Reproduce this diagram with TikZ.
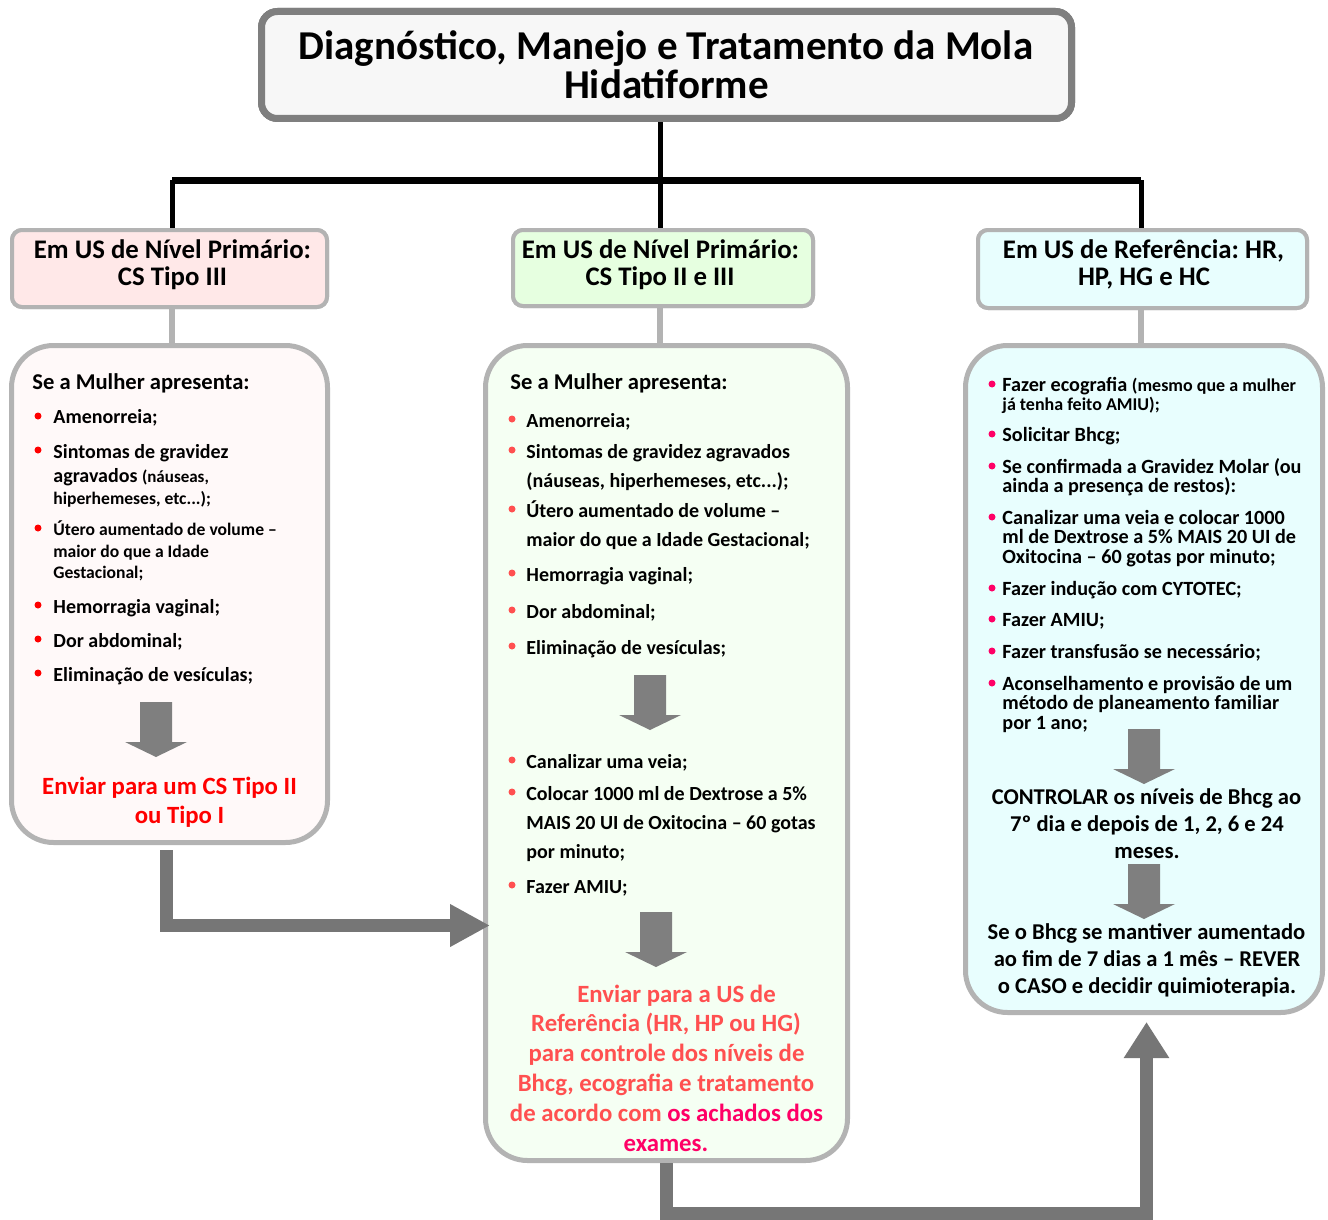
\documentclass[tikz,border=0pt]{standalone}
\usepackage{fontspec}
\setmainfont{Carlito}
\frenchspacing
\usetikzlibrary{arrows.meta,calc}
\definecolor{ttlgray}{HTML}{7F7F7F}
\definecolor{ttlfill}{HTML}{F7F7F7}
\definecolor{boxgray}{HTML}{B3B3B3}
\definecolor{hpink}{HTML}{FFE8E8}
\definecolor{hgreen}{HTML}{E6FFE0}
\definecolor{hcyan}{HTML}{E8FEFE}
\definecolor{cpink}{HTML}{FFF9F9}
\definecolor{cgreen}{HTML}{F5FFF3}
\definecolor{ccyan}{HTML}{E8FEFE}
\definecolor{blkarrow}{HTML}{7F7F7F}
\definecolor{flowgray}{HTML}{767676}
\definecolor{redA}{HTML}{FF0000}
\definecolor{redB}{HTML}{FF5050}
\definecolor{magB}{HTML}{FF0066}
\newcommand\smf{\fontsize{8.8}{10}\selectfont}
\newcommand\smr{\fontsize{9}{10}\selectfont}
\newcommand\bdot[3]{\fill[#1] (#2,#3) circle (1.75pt);}
\newcommand\blockdown[3]{% name, cx, top
  \fill[blkarrow] (#2-16,#3) -- (#2+16,#3) -- (#2+16,#3+40) -- (#2+31,#3+40) -- (#2,#3+55) -- (#2-31,#3+40) -- (#2-16,#3+40) -- cycle;
  \coordinate (#1) at (#2,#3);}
\tikzset{
  ttl/.style={inner sep=0, anchor=base, font=\fontsize{20.5}{24}\selectfont\bfseries},
  hdr/.style={inner sep=0, anchor=base, font=\fontsize{13.4}{15}\selectfont\bfseries},
  lead/.style={inner sep=0, anchor=base west, font=\fontsize{11.3}{13}\selectfont\bfseries},
  bodyl/.style={inner sep=0, anchor=base west, font=\fontsize{10}{12}\selectfont\bfseries},
  smalll/.style={inner sep=0, anchor=base west, font=\smf\bfseries},
  rightl/.style={inner sep=0, anchor=base west, font=\fontsize{10.1}{11}\selectfont\bfseries},
  redl/.style={inner sep=0, anchor=base, font=\fontsize{12.4}{14}\selectfont\bfseries},
  ctrl/.style={inner sep=0, anchor=base, font=\fontsize{11.3}{13}\selectfont\bfseries},
  titlebox/.style={draw=ttlgray, fill=ttlfill, line width=3.5pt, rounded corners=8pt, inner sep=0},
  headbox/.style={draw=boxgray, line width=2pt, rounded corners=5pt, inner sep=0},
  contbox/.style={draw=boxgray, line width=2.5pt, rounded corners=21pt, inner sep=0},
  blackline/.style={line width=2.5pt, black},
  grayline/.style={line width=3pt, boxgray},
  flow/.style={line width=6.5pt, flowgray},
}
\begin{document}
\begin{tikzpicture}[x=0.5pt,y=-0.5pt]
\useasboundingbox (0,0) rectangle (1328,1220);

% boxes (nodes)
\node[titlebox, minimum width=405pt, minimum height=53.5pt] (title) at (666.5,65) {};
\node[headbox, fill=hpink, minimum width=157.5pt, minimum height=38.5pt] (h1) at (169.5,268.5) {};
\node[headbox, fill=hgreen, minimum width=150pt, minimum height=38pt] (h2) at (663,268) {};
\node[headbox, fill=hcyan, minimum width=164.5pt, minimum height=39pt] (h3) at (1142.5,269) {};
\node[contbox, fill=cpink, minimum width=158pt, minimum height=248.5pt] (c1) at (169.5,594) {};
\node[contbox, fill=cgreen, minimum width=181pt, minimum height=407.5pt] (c2) at (666.5,753) {};
\node[contbox, fill=ccyan, minimum width=178.5pt, minimum height=333.5pt] (c3) at (1144,679) {};

% connectors
\coordinate (bar) at (660,180);
\draw[blackline] (title.south -| bar) -- (bar);
\draw[line width=3.5pt] (172,180) -- (1141,180);
\draw[blackline] (172,180) -- (h1.north -| 172,0);
\draw[blackline] (bar) -- (h2.north -| bar);
\draw[blackline] (1141,180) -- (h3.north -| 1141,0);
\draw[grayline] (h1.south -| 172,0) -- (c1.north -| 172,0);
\draw[grayline] (h2.south -| 660,0) -- (c2.north -| 660,0);
\draw[grayline] (h3.south -| 1141,0) -- (c3.north -| 1141,0);

% redraw boxes on top of connectors
\node[titlebox, minimum width=405pt, minimum height=53.5pt] (titleB) at (666.5,65) {};
\node[headbox, fill=hpink, minimum width=157.5pt, minimum height=38.5pt] (h1B) at (169.5,268.5) {};
\node[headbox, fill=hgreen, minimum width=150pt, minimum height=38pt] (h2B) at (663,268) {};
\node[headbox, fill=hcyan, minimum width=164.5pt, minimum height=39pt] (h3B) at (1142.5,269) {};

% flow arrows
\coordinate (fa) at (490,925.5);
\draw[flow, -{Triangle[length=20pt,width=20pt]}] ([xshift=-1.75pt,yshift=-2.5pt]c1.south) |- (fa);
\coordinate (fbc) at (1146.5,1213.5);
\coordinate (fb) at (1146.5,1022);
\draw[flow, -{Triangle[length=18pt,width=21.5pt]}] (c2.south) |- (fbc) -- (fb);

% title text
\node[ttl] (tt1) at (666,60) {Diagnóstico, Manejo e Tratamento da Mola};
\node[ttl] (tt2) at (666.5,98) {Hidatiforme};

% header texts
\node[hdr] (h1a) at (172.5,258) {Em US de Nível Primário:};
\node[hdr] (h1b) at (172.5,285) {CS Tipo III};
\node[hdr] (h2a) at (660.5,258) {Em US de Nível Primário:};
\node[hdr] (h2b) at (660,285) {CS Tipo II e III};
\node[hdr] (h3a) at (1143.5,258) {Em US de Referência: HR,};
\node[hdr] (h3b) at (1144,285) {HP, HG e HC};

% left box
\node[lead] (l0) at (32,389) {Se a Mulher apresenta:};
\bdot{redA}{38}{416}
\node[bodyl] (l1) at (53,423) {Amenorreia;};
\bdot{redA}{38}{450}
\node[bodyl] (l2) at (53,458) {Sintomas de gravidez};
\node[bodyl] (l3) at (53,482) {agravados {\fontsize{8.5}{10}\selectfont(náuseas,}};
\node[smalll] (l4) at (53,504) {hiperhemeses, etc...);};
\bdot{redA}{38}{528}
\node[smalll] (l5) at (53,535) {Útero aumentado de volume –};
\node[smalll] (l6) at (53,557) {maior do que a Idade};
\node[smalll] (l7) at (53,578) {Gestacional;};
\bdot{redA}{38}{605}
\node[bodyl] (l8) at (53,613) {Hemorragia vaginal;};
\bdot{redA}{38}{639}
\node[bodyl] (l9) at (53,647) {Dor abdominal;};
\bdot{redA}{38}{673}
\node[bodyl] (l10) at (53,681) {Eliminação de vesículas;};
\blockdown{ba1}{156}{702}
\node[redl, text=redA] (l11) at (169.5,794) {Enviar para um CS Tipo II};
\node[redl, text=redA] (l12) at (179.5,823) {ou Tipo I};

% middle box
\node[lead] (m0) at (510,389) {Se a Mulher apresenta:};
\bdot{redB}{512}{419}
\node[bodyl] (m1) at (526,427) {Amenorreia;};
\bdot{redB}{512}{450}
\node[bodyl] (m2) at (526,458) {Sintomas de gravidez agravados};
\node[bodyl] (m3) at (526,487) {(náuseas, hiperhemeses, etc...);};
\bdot{redB}{512}{509}
\node[bodyl] (m4) at (526,517) {Útero aumentado de volume –};
\node[bodyl] (m5) at (526,546) {maior do que a Idade Gestacional;};
\bdot{redB}{512}{573}
\node[bodyl] (m6) at (526,581) {Hemorragia vaginal;};
\bdot{redB}{512}{610}
\node[bodyl] (m7) at (526,618) {Dor abdominal;};
\bdot{redB}{512}{646}
\node[bodyl] (m8) at (526,654) {Eliminação de vesículas;};
\blockdown{ba2}{650}{675}
\bdot{redB}{512}{760}
\node[bodyl] (m9) at (526,768) {Canalizar uma veia;};
\bdot{redB}{512}{792}
\node[bodyl] (m10) at (526,800) {Colocar 1000 ml de Dextrose a 5\%};
\node[bodyl] (m11) at (526,829) {MAIS 20 UI de Oxitocina – 60 gotas};
\node[bodyl] (m12) at (526,858) {por minuto;};
\bdot{redB}{512}{885}
\node[bodyl] (m13) at (526,893) {Fazer AMIU;};
\blockdown{ba3}{656}{912}
\node[redl, text=redB] (m14) at (676.5,1002) {Enviar para a US de};
\node[redl, text=redB] (m15) at (666,1031) {Referência (HR, HP ou HG)};
\node[redl, text=redB] (m16) at (666.5,1061) {para controle dos níveis de};
\node[redl, text=redB] (m17) at (666,1091) {Bhcg, ecografia e tratamento};
\node[redl, text=redB] (m18) at (666.5,1121) {de acordo com \textcolor{magB}{os achados dos}};
\node[redl, text=magB] (m19) at (666,1151) {exames.};

% right box
\bdot{magB}{992}{384}
\node[rightl] (r1) at (1002,391) {Fazer ecografia {\smr(mesmo que a mulher}};
\node[rightl, font=\smr\bfseries] (r2) at (1002,410) {já tenha feito AMIU);};
\bdot{magB}{992}{434}
\node[rightl] (r3) at (1002,441) {Solicitar Bhcg;};
\bdot{magB}{992}{466}
\node[rightl] (r4) at (1002,473) {Se confirmada a Gravidez Molar (ou};
\node[rightl] (r5) at (1002,492) {ainda a presença de restos):};
\bdot{magB}{992}{517}
\node[rightl] (r6) at (1002,524) {Canalizar uma veia e colocar 1000};
\node[rightl] (r7) at (1002,543) {ml de Dextrose a 5\% MAIS 20 UI de};
\node[rightl] (r8) at (1002,563) {Oxitocina – 60 gotas por minuto;};
\bdot{magB}{992}{588}
\node[rightl] (r9) at (1002,595) {Fazer indução com CYTOTEC;};
\bdot{magB}{992}{619}
\node[rightl] (r10) at (1002,626) {Fazer AMIU;};
\bdot{magB}{992}{651}
\node[rightl] (r11) at (1002,658) {Fazer transfusão se necessário;};
\bdot{magB}{992}{683}
\node[rightl] (r12) at (1002,690) {Aconselhamento e provisão de um};
\node[rightl] (r13) at (1002,709) {método de planeamento familiar};
\node[rightl] (r14) at (1002,729) {por 1 ano;};
\blockdown{ba4}{1144}{729}
\node[ctrl] (r15) at (1146.5,804) {CONTROLAR os níveis de Bhcg ao};
\node[ctrl] (r16) at (1147,831) {7º dia e depois de 1, 2, 6 e 24};
\node[ctrl] (r17) at (1147,858) {meses.};
\blockdown{ba5}{1144}{864}
\node[ctrl] (r18) at (1146.5,939) {Se o Bhcg se mantiver aumentado};
\node[ctrl] (r19) at (1147,966) {ao fim de 7 dias a 1 mês – REVER};
\node[ctrl] (r20) at (1147,993) {o CASO e decidir quimioterapia.};
\end{tikzpicture}
\end{document}
